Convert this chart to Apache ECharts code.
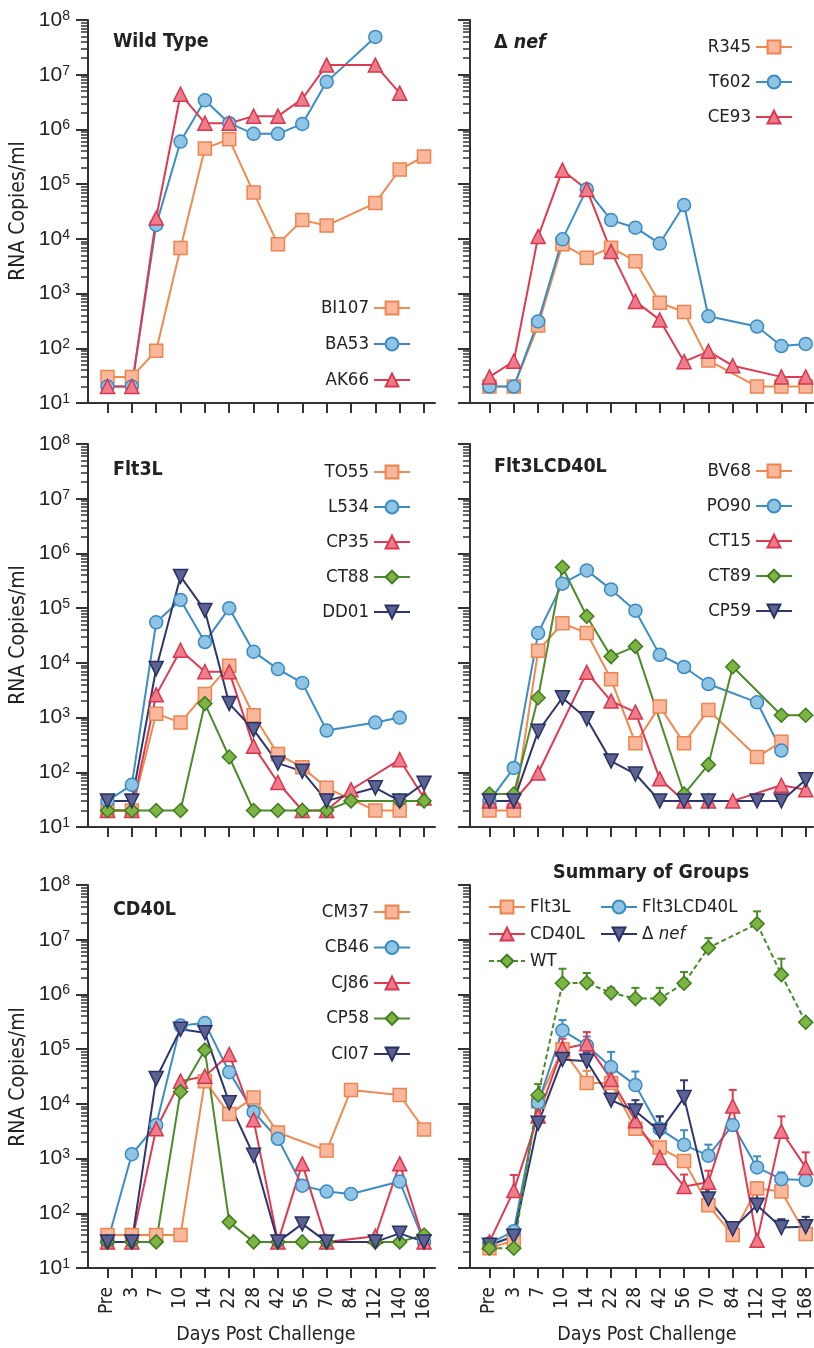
<!DOCTYPE html>
<html>
<head>
<meta charset="utf-8">
<title>RNA Copies/ml</title>
<script src="https://cdn.jsdelivr.net/npm/echarts@6/dist/echarts.min.js"></script>
<style>
html, body { margin: 0; padding: 0; background: #fff; }
#chart { width: 814px; height: 1348px; }
</style>
</head>
<body>
<div id="chart"></div>
<script>
// 横轴：攻毒后天数
const days = ['Pre', '3', '7', '10', '14', '22', '28', '42', '56', '70', '84', '112', '140', '168'];

// Wild Type
const bi107 = [30, 30, 90, 6800, 450000, 660000, 70000, 8000, 22000, 17500, null, 45000, 185000, 320000];
const ba53 = [20, 20, 18000, 600000, 3400000, 1300000, 830000, 830000, 1260000, 7400000, null, 49000000, null, null];
const ak66 = [20, 20, 24000, 4400000, 1300000, 1300000, 1750000, 1750000, 3600000, 15000000, null, 15000000, 4600000, null];

// Δ nef
const r345 = [20, 20, 260, 8000, 4500, 6900, 3900, 680, 460, 60, null, 20, 20, 20];
const t602 = [20, 20, 310, 9800, 81000, 22000, 16000, 8200, 41500, 385, null, 250, 110, 120];
const ce93 = [30, 58, 11000, 180000, 80000, 5900, 720, 330, 57, 88, 48, null, 30, 30];

// Flt3L
const to55 = [20, 20, 1180, 810, 2700, 8900, 1100, 215, 123, 52, null, 20, 20, null];
const l534 = [30, 59, 55000, 141000, 24000, 100000, 16000, 7700, 4300, 580, null, 810, 1000, null];
const cp35 = [20, 20, 2600, 17000, 6900, 6900, 300, 65, 20, 20, 48, null, 170, 34];
const ct88 = [20, 20, 20, 20, 1800, 190, 20, 20, 20, 20, 30, null, 30, 30];
const dd01 = [30, 30, 7900, 380000, 91000, 1800, 600, 147, 104, 30, null, 52, 30, 63];

// Flt3LCD40L
const bv68 = [20, 20, 16600, 53000, 35000, 5000, 340, 1600, 340, 1380, null, 190, 360, null];
const po90 = [30, 120, 35000, 280000, 490000, 220000, 90000, 14000, 8400, 4100, null, 1900, 250, null];
const ct15 = [30, 30, 97, null, 6700, 2000, 1260, 76, 30, 30, 30, null, 58, 48];
const ct89 = [40, 40, 2300, 560000, 71000, 13000, 20000, null, 40, 138, 8500, null, 1100, 1100];
const cp59 = [30, 30, 560, 2300, 950, 160, 93, 30, 30, 30, null, 30, 30, 73];

// CD40L
const cm37 = [40, 40, 40, 40, 26000, 6500, 13000, 3000, null, 1400, 18000, null, 14500, 3400];
const cb46 = [30, 1200, 4100, 270000, 300000, 38000, 7100, 2300, 320, 250, 226, null, 380, 30];
const cj86 = [30, 30, 3500, 26000, 32000, 80000, 5100, 30, 800, 30, null, 38, 800, 30];
const cp58 = [30, 30, 30, 16700, 96000, 69, 30, 30, 30, 30, null, 30, 30, 40];
const ci07 = [30, 30, 29000, 230000, 200000, 10500, 1150, 30, 64, 30, null, 30, 43, 30];

// Summary of Groups：均值
const sumFlt3L = [23, 32, 11000, 100000, 24000, 24000, 3500, 1600, 900, 140, 40, 285, 250, 42];
const sumFlt3LCD40L = [28, 47, 10500, 220000, 117000, 47000, 22000, 3500, 1780, 1130, 4100, 690, 420, 405];
const sumCD40L = [30, 260, 6000, 102000, 126000, 28000, 4900, 1050, 310, 370, 9100, 32, 3150, 690];
const sumNef = [26, 38, 4400, 65000, 60000, 11700, 7400, 3150, 13000, 183, 52, 140, 55, 57];
const sumWT = [23, 23, 14500, 1600000, 1630000, 1070000, 840000, 840000, 1600000, 7100000, null, 19500000, 2300000, 310000];

// Summary of Groups：误差线上端
const errFlt3L = [null, null, null, 130000, 40000, null, null, null, null, null, null, 370, null, null];
const errFlt3LCD40L = [null, 55, 13000, 340000, 170000, 89000, 39000, 5900, 3300, 1800, null, 1100, 560, null];
const errCD40L = [null, 500, null, 155000, 205000, 43000, null, null, 510, 600, 18000, null, 5900, 1300];
const errNef = [null, null, null, 107000, 86000, null, 11700, 5900, 27000, 320, null, 245, 78, 86];
const errWT = [null, null, 23000, 2950000, 2460000, 1320000, 1320000, 1320000, 2570000, 10700000, null, 33000000, 4500000, null];

const NARROW = '"Liberation Sans Narrow", "DejaVu Sans Condensed", "Liberation Sans", sans-serif';
const PLAIN = '"Liberation Sans", Arial, sans-serif';
const INK = '#222';
const AXIS = '#333';

// 颜色与符号
const looks = {
    orange: { line: '#f08a4f', fill: '#f9b89c', border: '#ee8450', symbol: 'rect', size: 13 },
    blue: { line: '#3b8dc5', fill: '#8fc4e5', border: '#3a8ac3', symbol: 'circle', size: 13 },
    red: { line: '#df3a50', fill: '#ef7c8a', border: '#d8374e', symbol: 'triangle', size: 14 },
    green: { line: '#4b8b2b', fill: '#7db443', border: '#3e7c21', symbol: 'diamond', size: 14 },
    navy: { line: '#2f366c', fill: '#5c6291', border: '#2a3165', symbol: 'path://M0,0L10,0L5,9Z', size: 14 }
};

// 六个面板
const panels = [
    { title: 'Wild Type', legendTop: 292, legendGap: 14,
      lines: [['BI107', bi107, 'orange'], ['BA53', ba53, 'blue'], ['AK66', ak66, 'red']] },
    { title: '{d|Δ }{n|nef}', legendTop: 31, legendGap: 13,
      lines: [['R345', r345, 'orange'], ['T602', t602, 'blue'], ['CE93', ce93, 'red']] },
    { title: 'Flt3L', legendTop: 456, legendGap: 13,
      lines: [['TO55', to55, 'orange'], ['L534', l534, 'blue'], ['CP35', cp35, 'red'], ['CT88', ct88, 'green'], ['DD01', dd01, 'navy']] },
    { title: 'Flt3LCD40L', legendTop: 455, legendGap: 13,
      lines: [['BV68', bv68, 'orange'], ['PO90', po90, 'blue'], ['CT15', ct15, 'red'], ['CT89', ct89, 'green'], ['CP59', cp59, 'navy']] },
    { title: 'CD40L', legendTop: 896, legendGap: 13.5,
      lines: [['CM37', cm37, 'orange'], ['CB46', cb46, 'blue'], ['CJ86', cj86, 'red'], ['CP58', cp58, 'green'], ['CI07', ci07, 'navy']] },
    { title: 'Summary of Groups', legendTop: null,
      lines: [['Flt3L', sumFlt3L, 'orange', errFlt3L], ['Flt3LCD40L', sumFlt3LCD40L, 'blue', errFlt3LCD40L],
              ['CD40L', sumCD40L, 'red', errCD40L], ['Δ nef', sumNef, 'navy', errNef], ['WT', sumWT, 'green', errWT]] }
];

const ROW_TOP = [20, 444, 885];
const tickIdx = days.map((d, i) => i);
const minorTicks = [];
for (let n = 1; n < 8; n++) {
    for (let k = 2; k < 10; k++) minorTicks.push(n + Math.log10(k));
}

function toPairs(values) {
    return values.map((v, i) => (v == null ? null : [i, v])).filter(p => p);
}

function errRows(values, hi) {
    return hi.map((h, i) => (h == null ? null : [i, values[i], h])).filter(p => p);
}

// 误差线（只画上半边）
function renderErr(params, api) {
    const p = api.coord([api.value(0), api.value(1)]);
    const t = api.coord([api.value(0), api.value(2)]);
    const st = { stroke: api.visual('color'), lineWidth: 2 };
    return {
        type: 'group',
        children: [
            { type: 'line', shape: { x1: p[0], y1: p[1], x2: t[0], y2: t[1] }, style: st },
            { type: 'line', shape: { x1: t[0] - 4, y1: t[1], x2: t[0] + 4, y2: t[1] }, style: st }
        ]
    };
}

function legendName(name) {
    return name === 'Δ nef' ? '{d|Δ }{i|nef}' : name;
}

const legendText = {
    fontFamily: NARROW, fontSize: 18.5, color: INK, lineHeight: 22,
    rich: {
        d: { fontFamily: NARROW, fontSize: 18.5, color: INK },
        i: { fontFamily: NARROW, fontSize: 18.5, color: INK, fontStyle: 'italic' }
    }
};

const grids = [], xAxes = [], yAxes = [], minorAxes = [], series = [], legends = [], titles = [];

panels.forEach((panel, p) => {
    const row = Math.floor(p / 2);
    const col = p % 2;
    grids.push({ left: col ? 470 : 88, top: ROW_TOP[row], width: col ? 343 : 347, height: 383, outerBoundsMode: 'none' });

    xAxes.push({
        type: 'value', gridIndex: p, min: -0.8, max: col ? 13.3 : 13.45,
        axisLine: { onZero: false, lineStyle: { color: AXIS, width: 2 } },
        axisTick: { customValues: tickIdx, length: 10, lineStyle: { color: AXIS, width: 2 } },
        axisLabel: {
            show: row === 2, customValues: tickIdx, rotate: 90, margin: 19,
            formatter: v => days[Math.round(v)],
            fontFamily: NARROW, fontSize: 19, color: INK
        },
        splitLine: { show: false }
    });

    yAxes.push({
        type: 'log', logBase: 10, gridIndex: p, min: 10, max: 100000000, splitNumber: 7,
        axisLine: { onZero: false, lineStyle: { color: AXIS, width: 2 } },
        axisTick: { length: 12, lineStyle: { color: AXIS, width: 2 } },
        axisLabel: {
            show: col === 0, margin: 18,
            formatter: v => '{b|10}{s|' + Math.round(Math.log10(v)) + '}',
            rich: {
                b: { fontFamily: PLAIN, fontSize: 21, color: INK, lineHeight: 22 },
                s: { fontFamily: PLAIN, fontSize: 14, color: INK, lineHeight: 14, verticalAlign: 'top' }
            }
        },
        splitLine: { show: false }
    });

    // 次刻度用一个隐藏的线性轴（log10 空间）
    minorAxes.push({
        type: 'value', gridIndex: p, min: 1, max: 8, position: 'left',
        axisLine: { show: false, onZero: false },
        axisLabel: { show: false },
        splitLine: { show: false },
        axisTick: { show: true, customValues: minorTicks, length: 7, lineStyle: { color: AXIS, width: 1.5 } }
    });

    panel.lines.forEach(([name, values, look, hi]) => {
        const lk = looks[look];
        if (hi) {
            series.push({
                name: name + ' err', type: 'custom', xAxisIndex: p, yAxisIndex: p,
                data: errRows(values, hi), encode: { x: 0, y: 1 },
                renderItem: renderErr, itemStyle: { color: lk.line }, z: 1, silent: true
            });
        }
        series.push({
            name: name, type: 'line', xAxisIndex: p, yAxisIndex: p,
            data: toPairs(values),
            symbol: lk.symbol, symbolSize: lk.size, showSymbol: true,
            lineStyle: { color: lk.line, width: 2, type: name === 'WT' ? [5, 3] : 'solid' },
            itemStyle: { color: lk.fill, borderColor: lk.border, borderWidth: 1.5 },
            emphasis: { disabled: true }, z: 2
        });
    });

    if (panel.legendTop != null) {
        legends.push({
            orient: 'vertical', align: 'right', right: col ? 16 : 398, top: panel.legendTop,
            itemWidth: 36, itemHeight: 16, itemGap: panel.legendGap, selectedMode: false,
            data: panel.lines.map(l => l[0]), textStyle: legendText
        });
    }
});

// Summary 的两列图例
legends.push({
    orient: 'vertical', align: 'left', left: 483, top: 891, itemWidth: 36, itemHeight: 16, itemGap: 5,
    selectedMode: false, data: ['Flt3L', 'CD40L', 'WT'], formatter: legendName, textStyle: legendText
});
legends.push({
    orient: 'vertical', align: 'left', left: 595, top: 891, itemWidth: 36, itemHeight: 16, itemGap: 5,
    selectedMode: false, data: ['Flt3LCD40L', 'Δ nef'], formatter: legendName, textStyle: legendText
});

const titleStyle = {
    fontFamily: NARROW, fontSize: 19.5, fontWeight: 'bold', color: INK,
    rich: {
        d: { fontFamily: NARROW, fontSize: 19.5, fontWeight: 'bold', color: INK },
        n: { fontFamily: NARROW, fontSize: 19.5, fontWeight: 'bold', fontStyle: 'italic', color: INK }
    }
};
const titlePos = [[113, 32], [494, 33], [113, 460], [494, 457], [113, 900], [553, 863]];
panels.forEach((panel, p) => {
    titles.push({ text: panel.title, left: titlePos[p][0], top: titlePos[p][1], padding: 0, textStyle: titleStyle });
});

// 轴名
const graphics = [];
[211, 635, 1077].forEach(cy => {
    graphics.push({
        type: 'text', x: 19, y: cy, rotation: Math.PI / 2,
        style: { text: 'RNA Copies/ml', fontFamily: NARROW, fontSize: 21, fill: INK, align: 'center', verticalAlign: 'middle' }
    });
});
[266, 647].forEach(cx => {
    graphics.push({
        type: 'text', x: cx, y: 1335,
        style: { text: 'Days Post Challenge', fontFamily: NARROW, fontSize: 19.5, fill: INK, align: 'center', verticalAlign: 'middle' }
    });
});

const chart = echarts.init(document.getElementById('chart'));
chart.setOption({
    backgroundColor: '#fff',
    animation: false,
    title: titles,
    legend: legends,
    grid: grids,
    xAxis: xAxes,
    yAxis: yAxes.concat(minorAxes.map((a, i) => Object.assign(a, { gridIndex: i }))),
    series: series,
    graphic: graphics
});
</script>
</body>
</html>
